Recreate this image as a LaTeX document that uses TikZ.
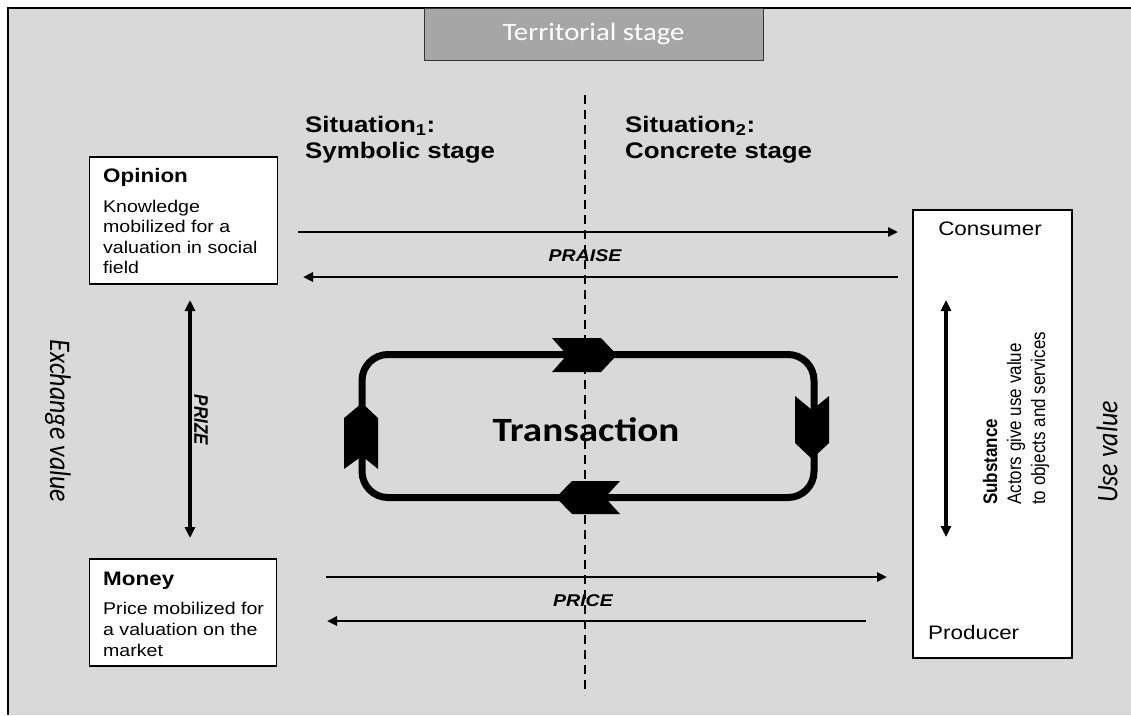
\documentclass[tikz,border=0pt]{standalone}
\usepackage{fontspec}
\usepackage{graphicx}
\setmainfont{Liberation Sans}
\newfontfamily\calib{Carlito}
\usetikzlibrary{arrows.meta}
\definecolor{bgc}{HTML}{D9D9D9}
\definecolor{terrc}{HTML}{A6A6A6}
\newcommand{\fs}[2]{\fontsize{#1}{#2}\selectfont}
\newcommand{\hst}[1]{\scalebox{1.15}[1]{#1}}
\newcommand{\vst}[1]{\scalebox{1}[1.15]{#1}}
\begin{document}
\begin{tikzpicture}[x=1pt,y=-1pt,
  box/.style={draw=black, line width=1.2pt, fill=white, inner sep=0pt},
  flow/.style={line width=2.6pt, -{Triangle[length=10pt,width=9pt]}},
  dflow/.style={line width=3.6pt, {Triangle[length=11pt,width=10pt]}-{Triangle[length=11pt,width=10pt]}},
  chev/.style={fill=black, draw=none},
  txt/.style={inner sep=0pt, align=left},
  divider/.style={line width=1.6pt, dash pattern=on 9pt off 6pt},
]
\useasboundingbox (0,0) rectangle (1131,715);
\fill[bgc] (8,8) rectangle (1131,715);
\draw[line width=1.5pt] (8,715) -- (8,8) -- (1131,8);

% territorial stage
\node[draw=black!80, line width=1pt, fill=terrc, minimum width=339pt, minimum height=52pt, inner sep=0pt, text=white] (terr) at (593.5,34) {\calib\fs{25}{30}\hst{Territorial stage}};

% divider
\coordinate (dtop) at (585,95);
\coordinate (dbot) at (585,695);
\draw[divider] (dtop) -- (dbot);

% situations
\node[txt, anchor=base west, font={\fs{22.5}{26}\bfseries}] (s1) at (305,158) {\hst{Situation\textsubscript{1}:}\\\hst{Symbolic stage}};
\node[txt, anchor=base west, font={\fs{22.5}{26}\bfseries}] (s2) at (625,158) {\hst{Situation\textsubscript{2}:}\\\hst{Concrete stage}};

% opinion box
\node[box, minimum width=188pt, minimum height=127pt] (op) at (183.5,220.5) {};
\node[txt, anchor=base west] (opt) at (103,182) {\fs{19.5}{24}\bfseries\hst{Opinion}};
\node[txt, anchor=north west, font={\fs{17}{20.5}}] (opb) at (103,199.5) {\hst{Knowledge}\\\hst{mobilized for a}\\\hst{valuation in social}\\\hst{field}};

% money box
\node[box, minimum width=187pt, minimum height=107pt] (mo) at (183,612.5) {};
\node[txt, anchor=base west] (mot) at (103,585) {\fs{19.5}{24}\bfseries\hst{Money}};
\node[txt, anchor=north west, font={\fs{17}{21}}] (mob) at (103,602) {\hst{Price mobilized for}\\\hst{a valuation on the}\\\hst{market}};

% consumer/producer box
\node[box, minimum width=159pt, minimum height=448pt] (cp) at (992.5,434) {};
\node[txt] (cons) at (990,229) {\fs{19.5}{22}\hst{Consumer}};
\node[txt, anchor=base west] (prod) at (928,639) {\fs{19.5}{22}\hst{Producer}};
\node[txt, rotate=90, anchor=north west] (subst) at (980,505) {\vst{\fs{17}{20.9}\begin{tabular}{@{}l@{}}\textbf{Substance}\\Actors give use value\\to objects and services\end{tabular}}};

% side labels
\node[txt, rotate=-90] (exv) at (58,421) {\calib\itshape\fs{26}{30}\vst{Exchange value}};
\node[txt, rotate=90] (usv) at (1107,452) {\calib\itshape\fs{26}{30}\vst{Use value}};

% horizontal arrows
\coordinate (a1s) at (298,232); \coordinate (a1e) at (898,232);
\coordinate (a2s) at (898,277); \coordinate (a2e) at (303,277);
\coordinate (a3s) at (326,577); \coordinate (a3e) at (887,577);
\coordinate (a4s) at (866,621); \coordinate (a4e) at (327,621);
\draw[flow] (a1s) -- (a1e);
\draw[flow] (a2s) -- (a2e);
\draw[flow] (a3s) -- (a3e);
\draw[flow] (a4s) -- (a4e);
\node[txt] (praise) at (585,256) {\fs{17}{20}\bfseries\itshape\hst{PRAISE}};
\node[txt] (price) at (583,601) {\fs{17}{20}\bfseries\itshape\hst{PRICE}};

% vertical double arrows
\coordinate (p1) at (190,300); \coordinate (p2) at (190,538);
\draw[dflow] (p1) -- (p2);
\node[txt, rotate=-90] (prize) at (201,420) {\fs{17}{20}\bfseries\itshape\vst{PRIZE}};
\coordinate (s1a) at (946,300); \coordinate (s1b) at (946,537);
\draw[dflow] (s1a) -- (s1b);

% transaction loop
\node[draw=black, line width=7pt, rounded corners=26pt, minimum width=452pt, minimum height=143pt, inner sep=0pt] (loop) at (588,426) {};
\node[txt] (trans) at (586,430) {\calib\bfseries\fs{34}{40}\hst{Transaction}};
\fill[chev] (552,338) -- (601,338) -- (617,355) -- (601,372) -- (552,372) -- (567,355) -- cycle;
\fill[chev] (795,396) -- (812,410) -- (829,396) -- (829,443) -- (812,459) -- (795,443) -- cycle;
\fill[chev] (620,481) -- (572,481) -- (556,497.5) -- (572,514) -- (620,514) -- (605,497.5) -- cycle;
\fill[chev] (362,403) -- (378,418) -- (378,469) -- (362,456) -- (344,469) -- (344,418) -- cycle;
\end{tikzpicture}
\end{document}
